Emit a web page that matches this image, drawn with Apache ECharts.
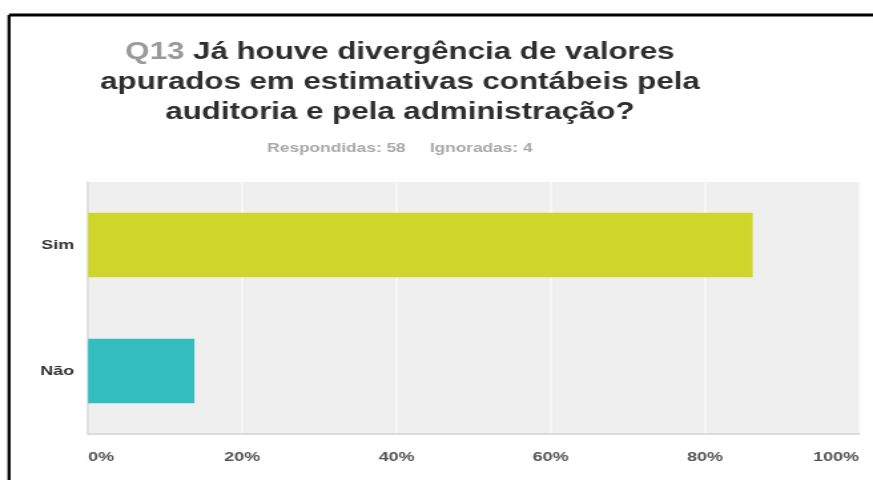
<!DOCTYPE html>
<html>
<head>
<meta charset="utf-8">
<script src="https://cdn.jsdelivr.net/npm/echarts@6/dist/echarts.min.js"></script>
<style>
  html, body { margin: 0; padding: 0; background: #fff; overflow: hidden; }
  /* the reference screenshot is stretched horizontally, so draw narrower and stretch */
  #chart { width: 656px; height: 480px; transform: scaleX(1.3308); transform-origin: 0 0; }
</style>
</head>
<body>
<div id="chart"></div>
<script>
var categories = ["Sim", "Não"];
var values = [86.21, 13.79];
var barColors = ["#cfd52a", "#33bdbf"];
var questionNo = "Q13";
var titleLines = ["Já houve divergência de valores", "apurados em estimativas contábeis pela", "auditoria e pela administração?"];
var answered = 58;
var skipped = 4;

var myChart = echarts.init(document.getElementById("chart"));

myChart.setOption({
  backgroundColor: "#fff",
  animation: false,
  title: {
    text: "{q|" + questionNo + "} " + titleLines.join("\n"),
    left: 295.5,
    top: 33,
    textAlign: "center",
    textStyle: {
      fontFamily: "Liberation Sans",
      fontSize: 23.5,
      fontWeight: "bold",
      color: "#2e2e2e",
      lineHeight: 30,
      rich: {
        q: {
          fontFamily: "Liberation Sans",
          fontSize: 23.5,
          fontWeight: "bold",
          color: "#9a9a9a",
          lineHeight: 30
        }
      }
    },
    subtext: "Respondidas: " + answered + "     Ignoradas: " + skipped,
    itemGap: 14,
    subtextStyle: {
      fontFamily: "Liberation Sans",
      fontSize: 13,
      fontWeight: "bold",
      color: "#a8a8a8"
    }
  },
  graphic: [
    { type: "line", shape: { x1: 6.8, y1: 15, x2: 660, y2: 15 }, style: { stroke: "#000", lineWidth: 3 } },
    { type: "line", shape: { x1: 6.8, y1: 15, x2: 6.8, y2: 480 }, style: { stroke: "#000", lineWidth: 2.3 } }
  ],
  grid: {
    left: 66.2,
    right: 10.5,
    top: 182,
    bottom: 46,
    show: true,
    backgroundColor: "#efefef",
    borderWidth: 0
  },
  xAxis: {
    type: "value",
    min: 0,
    max: 100,
    interval: 20,
    axisLine: { show: true, lineStyle: { color: "#dcdcdc", width: 2 } },
    axisTick: { show: false },
    splitLine: { show: true, lineStyle: { color: "#fafafa", width: 1.5 } },
    axisLabel: {
      formatter: "{value}%",
      margin: 16,
      fontFamily: "Liberation Sans",
      fontSize: 13.5,
      fontWeight: "bold",
      color: "#555",
      alignMinLabel: "left",
      alignMaxLabel: "right"
    }
  },
  yAxis: {
    type: "category",
    data: categories,
    inverse: true,
    axisLine: { show: true, lineStyle: { color: "#d9d9d9", width: 1.5 } },
    axisTick: { show: false },
    axisLabel: {
      margin: 10.5,
      fontFamily: "Liberation Sans",
      fontSize: 13.5,
      fontWeight: "bold",
      color: "#333"
    }
  },
  series: [
    {
      type: "bar",
      data: values,
      barWidth: "51%",
      itemStyle: {
        color: function (p) { return barColors[p.dataIndex % barColors.length]; }
      }
    }
  ]
});
</script>
</body>
</html>
